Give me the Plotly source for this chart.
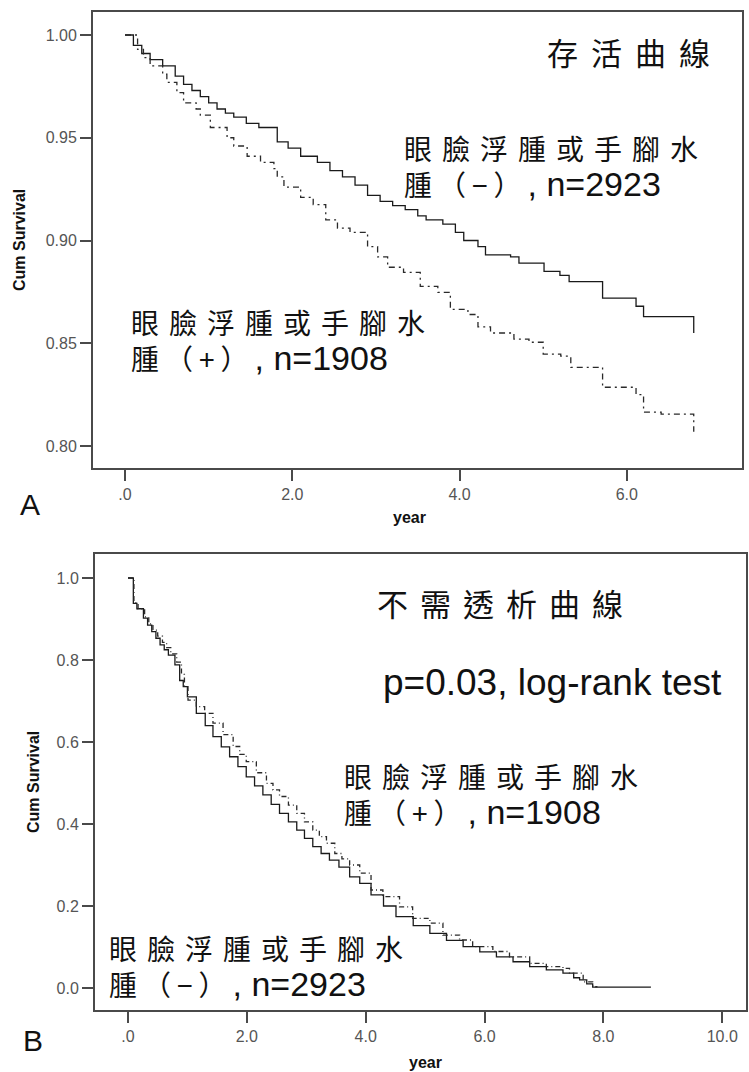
import plotly.graph_objects as go

W, H = 749, 1072

# ---------------- Panel A: 存活曲線 (overall survival) ----------------
a_neg_t = [0, 0.1, 0.2, 0.3, 0.45, 0.6, 0.7, 0.8, 0.9, 1.0, 1.1, 1.2, 1.3, 1.45, 1.6, 1.82,
           1.95, 2.1, 2.3, 2.45, 2.6, 2.75, 2.9, 3.05, 3.2, 3.35, 3.5, 3.6, 3.8, 3.95, 4.05,
           4.22, 4.31, 4.61, 4.71, 5.01, 5.2, 5.31, 5.71, 6.11, 6.2, 6.8]
a_neg_s = [1.000, 0.995, 0.991, 0.988, 0.985, 0.980, 0.976, 0.973, 0.970, 0.967, 0.964, 0.962,
           0.960, 0.957, 0.955, 0.948, 0.945, 0.941, 0.938, 0.934, 0.931, 0.927, 0.922, 0.919,
           0.917, 0.915, 0.912, 0.910, 0.908, 0.904, 0.900, 0.897, 0.893, 0.892, 0.889, 0.885,
           0.883, 0.880, 0.872, 0.868, 0.863, 0.855]

a_pos_t = [0, 0.15, 0.22, 0.3, 0.45, 0.5, 0.62, 0.7, 0.85, 0.9, 1.02, 1.22, 1.3, 1.46, 1.62,
           1.78, 1.82, 1.9, 2.1, 2.25, 2.4, 2.54, 2.69, 2.9, 3.02, 3.14, 3.33, 3.53, 3.74, 3.89,
           4.1, 4.22, 4.37, 4.65, 4.83, 5.0, 5.21, 5.33, 5.71, 6.11, 6.2, 6.41, 6.8]
a_pos_s = [1.000, 0.993, 0.989, 0.985, 0.981, 0.977, 0.972, 0.967, 0.964, 0.961, 0.955, 0.950,
           0.946, 0.941, 0.938, 0.935, 0.931, 0.926, 0.921, 0.9175, 0.910, 0.906, 0.904, 0.897,
           0.892, 0.887, 0.8845, 0.8777, 0.8748, 0.8665, 0.864, 0.858, 0.855, 0.852, 0.8505,
           0.8447, 0.8437, 0.8383, 0.8286, 0.825, 0.8165, 0.8155, 0.807]

# ---------------- Panel B: 不需透析曲線 (dialysis-free) ----------------
b_neg_t = [0, 0.09, 0.15, 0.26, 0.33, 0.40, 0.47, 0.54, 0.61, 0.68, 0.79, 0.87, 0.93, 1.0,
           1.15, 1.3, 1.43, 1.57, 1.71, 1.85, 1.99, 2.13, 2.27, 2.41, 2.55, 2.7, 2.84, 2.97,
           3.11, 3.25, 3.39, 3.55, 3.73, 3.9, 4.09, 4.3, 4.51, 4.8, 5.08, 5.36, 5.64, 5.92,
           6.2, 6.48, 6.76, 7.04, 7.32, 7.5, 7.6, 7.72, 7.82, 8.8]
b_neg_s = [1.0, 0.938, 0.925, 0.902, 0.885, 0.869, 0.853, 0.837, 0.825, 0.812, 0.788, 0.750,
           0.735, 0.710, 0.670, 0.640, 0.613, 0.588, 0.564, 0.540, 0.515, 0.493, 0.471, 0.448,
           0.426, 0.405, 0.385, 0.365, 0.345, 0.328, 0.312, 0.295, 0.271, 0.255, 0.227, 0.200,
           0.174, 0.152, 0.133, 0.116, 0.101, 0.088, 0.076, 0.064, 0.052, 0.044, 0.036, 0.025,
           0.020, 0.010, 0.002, 0.002]

b_pos_t = [0, 0.1, 0.17, 0.28, 0.35, 0.42, 0.5, 0.58, 0.65, 0.72, 0.82, 0.9, 0.95, 1.01, 1.15,
           1.29, 1.43, 1.6, 1.77, 1.88, 1.99, 2.16, 2.33, 2.44, 2.55, 2.7, 2.84, 2.97, 3.11,
           3.22, 3.34, 3.48, 3.6, 3.73, 3.9, 4.09, 4.29, 4.57, 4.79, 5.08, 5.3, 5.58, 5.8,
           6.14, 6.42, 6.76, 7.04, 7.32, 7.43, 7.66, 7.82, 7.9]
b_pos_s = [1.0, 0.940, 0.925, 0.905, 0.888, 0.873, 0.858, 0.843, 0.830, 0.815, 0.795, 0.765,
           0.735, 0.702, 0.686, 0.670, 0.646, 0.618, 0.589, 0.570, 0.552, 0.525, 0.499, 0.483,
           0.467, 0.446, 0.426, 0.405, 0.385, 0.369, 0.353, 0.328, 0.315, 0.300, 0.280, 0.239,
           0.223, 0.198, 0.170, 0.158, 0.129, 0.117, 0.101, 0.089, 0.076, 0.060, 0.052, 0.048,
           0.036, 0.015, 0.003, 0.003]

a_xtick_vals = [0, 2, 4, 6]
a_xtick_text = [".0", "2.0", "4.0", "6.0"]
a_ytick_vals = [0.80, 0.85, 0.90, 0.95, 1.00]
a_ytick_text = ["0.80", "0.85", "0.90", "0.95", "1.00"]
b_xtick_vals = [0, 2, 4, 6, 8, 10]
b_xtick_text = [".0", "2.0", "4.0", "6.0", "8.0", "10.0"]
b_ytick_vals = [0.0, 0.2, 0.4, 0.6, 0.8, 1.0]
b_ytick_text = ["0.0", "0.2", "0.4", "0.6", "0.8", "1.0"]

CJK = "Noto Sans CJK TC"
LAT = "Liberation Sans, Arial, sans-serif"
SOLID = dict(shape="hv", color="#1a1a1a", width=1.3)
DASHED = dict(shape="hv", color="#2a2a2a", width=1.3, dash="6px,4px,2px,4px")

fig = go.Figure()
fig.add_trace(go.Scatter(x=a_neg_t, y=a_neg_s, mode="lines", line=SOLID, xaxis="x", yaxis="y"))
fig.add_trace(go.Scatter(x=a_pos_t, y=a_pos_s, mode="lines", line=DASHED, xaxis="x", yaxis="y"))
fig.add_trace(go.Scatter(x=b_neg_t, y=b_neg_s, mode="lines", line=SOLID, xaxis="x2", yaxis="y2"))
fig.add_trace(go.Scatter(x=b_pos_t, y=b_pos_s, mode="lines",
                         line=dict(DASHED, dash="5px,3px,1px,3px"), xaxis="x2", yaxis="y2"))


def axis_style(**kw):
    d = dict(showgrid=False, zeroline=False, showline=True, linecolor="#4a4a4a", linewidth=2,
             mirror=True, ticks="outside", ticklen=11, tickwidth=1.5, tickcolor="#4a4a4a",
             tickfont=dict(family=LAT, size=16, color="#555"), fixedrange=True)
    d.update(kw)
    return d


fig.update_layout(
    width=W, height=H, margin=dict(l=0, r=0, t=0, b=0),
    paper_bgcolor="white", plot_bgcolor="white", showlegend=False,
    xaxis=axis_style(domain=[93 / W, 742 / W], range=[-0.383, 7.377], anchor="y",
                     tickvals=a_xtick_vals, ticktext=a_xtick_text),
    yaxis=axis_style(domain=[1 - 468 / H, 1 - 12 / H], range=[0.7893, 1.0112], anchor="x",
                     tickvals=a_ytick_vals, ticktext=a_ytick_text),
    xaxis2=axis_style(domain=[95 / W, 746 / W], range=[-0.555, 10.4], anchor="y2",
                      tickvals=b_xtick_vals, ticktext=b_xtick_text),
    yaxis2=axis_style(domain=[1 - 1010 / H, 1 - 554 / H], range=[-0.0537, 1.0585], anchor="x2",
                      tickvals=b_ytick_vals, ticktext=b_ytick_text),
)


def ann(text, px, py, size, family=CJK, xanchor="left", color="#111", bold=False, angle=0):
    return dict(text=text, x=px / W, y=1 - py / H, xref="paper", yref="paper",
                xanchor=xanchor, yanchor="middle", showarrow=False, textangle=angle,
                align="left", font=dict(family=family, size=size, color=color,
                                        weight="bold" if bold else "normal"))


def spaced(t, sp):
    return '<span style="letter-spacing:%dpx">%s</span>' % (sp, t)


def latin(t, size):
    return '<span style="font-family:Liberation Sans;font-size:%dpx">%s</span>' % (size, t)


line1 = "眼臉浮腫或手腳水"
label_neg = spaced(line1, 10) + "<br>" + spaced("腫（−）", 6) + latin(", n=2923", 34)
label_pos = spaced(line1, 10) + "<br>" + spaced("腫（+）", 6) + latin(", n=1908", 34)

annotations = [
    # Panel A
    ann(spaced("存活曲線", 13), 545, 52, 31),
    ann(label_neg, 402, 166, 28),
    ann(label_pos, 129, 340, 28),
    ann("Cum Survival", 20, 240, 16, family=LAT, xanchor="center", bold=True, angle=-90),
    ann("year", 409, 517, 16, family=LAT, xanchor="center", bold=True),
    ann("A", 30, 505, 30, family=LAT, xanchor="center"),
    # Panel B
    ann(spaced("不需透析曲線", 12), 375, 602, 31),
    ann(latin("p=0.03, log-rank test", 37), 381, 682, 28),
    ann(label_pos, 342, 794, 28),
    ann(label_neg, 107, 966, 28),
    ann("Cum Survival", 33, 782, 16, family=LAT, xanchor="center", bold=True, angle=-90),
    ann("year", 425, 1062, 16, family=LAT, xanchor="center", bold=True),
    ann("B", 33, 1040, 30, family=LAT, xanchor="center"),
]
fig.update_layout(annotations=annotations)

fig.write_html("out.html")
